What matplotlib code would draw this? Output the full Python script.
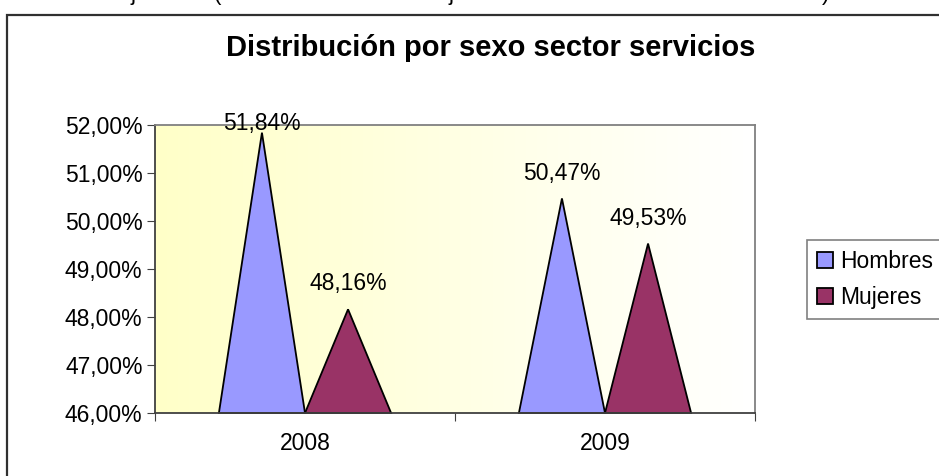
import numpy as np
import matplotlib
matplotlib.use('Agg')
import matplotlib.pyplot as plt
from matplotlib.patches import Rectangle, Patch
from matplotlib.colors import LinearSegmentedColormap
from matplotlib.ticker import FuncFormatter

plt.rcParams['font.family'] = ['Liberation Sans', 'DejaVu Sans']

# data
years = ['2008', '2009']
series = ['Hombres', 'Mujeres']
hombres = [51.84, 50.47]
mujeres = [48.16, 49.53]
colors = ['#9999FF', '#993366']
title = 'Distribución por sexo sector servicios'

W, H = 939, 476
fig = plt.figure(figsize=(W / 100, H / 100), dpi=100)

# outer chart frame (runs off right and bottom edges)
fig.patches.append(Rectangle((7 / W, -0.05), 1.1, (H - 15) / H + 0.05,
                             transform=fig.transFigure, fill=False,
                             edgecolor='#303030', linewidth=1.6))

# fragments of the cut off line above the chart
for ch, px in [('j', 130), ('(', 214), ('j', 449), (')', 822)]:
    fig.text(px / W, 1.0, ch, fontsize=16, va='baseline', ha='left')

ax = fig.add_axes([155 / W, (H - 413) / H, 600 / W, 288 / H])
ymin, ymax = 46, 52
ax.set_xlim(-0.5, len(years) - 0.5)
ax.set_ylim(ymin, ymax)

# yellow to white gradient background
grad = np.linspace(0, 1, 256)[None, :]
cmap = LinearSegmentedColormap.from_list('bg', ['#FFFFC8', '#FFFFFF'])
ax.imshow(grad, cmap=cmap, aspect='auto', extent=[-0.5, len(years) - 0.5, ymin, ymax],
          zorder=0)

width = 0.287
for i, vals in enumerate([hombres, mujeres]):
    offset = (i - 0.5) * width
    for j, v in enumerate(vals):
        c = j + offset
        ax.fill([c - width / 2, c, c + width / 2], [ymin, v, ymin],
                facecolor=colors[i], edgecolor='black', linewidth=1.3, zorder=2,
                clip_on=False)
        # labels sit above the apex, but are held inside the chart area
        ax.text(c, min(v + 0.29, 51.8), f'{v:.2f}%'.replace('.', ','),
                ha='center', va='bottom', fontsize=16.5, zorder=3)

ax.set_yticks(np.arange(ymin, ymax + 1, 1))
ax.yaxis.set_major_formatter(FuncFormatter(lambda v, p: f'{v:.2f}%'.replace('.', ',')))
ax.set_xticks(np.arange(len(years) + 1) - 0.5)
ax.set_xticklabels([])
ax.set_xticks(np.arange(len(years)), minor=True)
ax.set_xticklabels(years, minor=True)
ax.tick_params(axis='x', which='minor', length=0, pad=14, labelsize=16.5)
ax.tick_params(axis='x', which='major', length=6, direction='out', color='#404040')
ax.tick_params(axis='y', length=6, direction='out', labelsize=16.5, pad=3,
               color='#404040')

for s in ['top', 'right']:
    ax.spines[s].set_color('#808080')
for s in ['left', 'bottom']:
    ax.spines[s].set_color('#404040')
for s in ax.spines.values():
    s.set_linewidth(1.3)

fig.text(491 / W, 1 - 48 / H, title, ha='center', va='center', fontsize=21,
         fontweight='bold')

handles = [Patch(facecolor=c, edgecolor='black', linewidth=1.3) for c in colors]
leg = fig.legend(handles, series, loc='upper left',
                 bbox_to_anchor=(807 / W, 1 - 240 / H), fontsize=16.5,
                 frameon=True, fancybox=False, handlelength=0.7, handleheight=0.7,
                 handletextpad=0.3, borderpad=0.45, labelspacing=0.55,
                 borderaxespad=0)
leg.get_frame().set_edgecolor('#606060')
leg.get_frame().set_linewidth(1.2)

fig.savefig('out.png', dpi=100)
